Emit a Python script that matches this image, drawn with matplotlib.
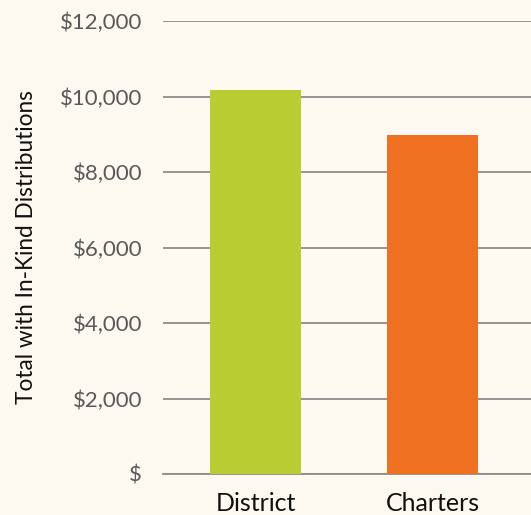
import matplotlib

matplotlib.use("Agg")
import matplotlib.pyplot as plt
from matplotlib.ticker import FuncFormatter

categories = ["District", "Charters"]
totals = [10170, 8980]
bar_colors = ["#b9cd32", "#f07021"]
yticks = [0, 2000, 4000, 6000, 8000, 10000, 12000]

_BG = "#fdf9f1"
_GRID = "#8c8c8c"

plt.rcParams["font.family"] = ["Lato", "DejaVu Sans"]

fig = plt.figure(figsize=(5.31, 5.15), dpi=100, facecolor=_BG)
ax = fig.add_axes([163 / 531, 41 / 515, 368 / 531, 453 / 515])
ax.set_facecolor(_BG)

positions = list(range(len(categories)))
ax.bar(positions, totals, width=0.514, color=bar_colors, zorder=3)

ax.set_xlim(-0.5226, 1.5565)
ax.set_ylim(0, 12000)
ax.set_yticks(yticks)
ax.yaxis.set_major_formatter(
    FuncFormatter(lambda v, _: "$" if v == 0 else f"${v:,.0f}")
)
ax.grid(True, axis="y", color=_GRID, lw=1.3, zorder=0)
ax.set_xticks(positions)
ax.set_xticklabels(categories, fontsize=18, color="#111111")
ax.tick_params(axis="y", length=0, pad=15, labelsize=16, labelcolor="#595959")
ax.tick_params(axis="x", length=0, pad=13)
for side in ("top", "right", "left"):
    ax.spines[side].set_visible(False)
ax.spines["bottom"].set_color(_GRID)
ax.spines["bottom"].set_linewidth(1.3)

ax.set_ylabel("Total with In-Kind Distributions", fontsize=16.3, color="#111111")
ax.yaxis.set_label_coords(-126 / 368, 0.5)

fig.savefig("out.png", dpi=100, facecolor=_BG)
plt.close(fig)
